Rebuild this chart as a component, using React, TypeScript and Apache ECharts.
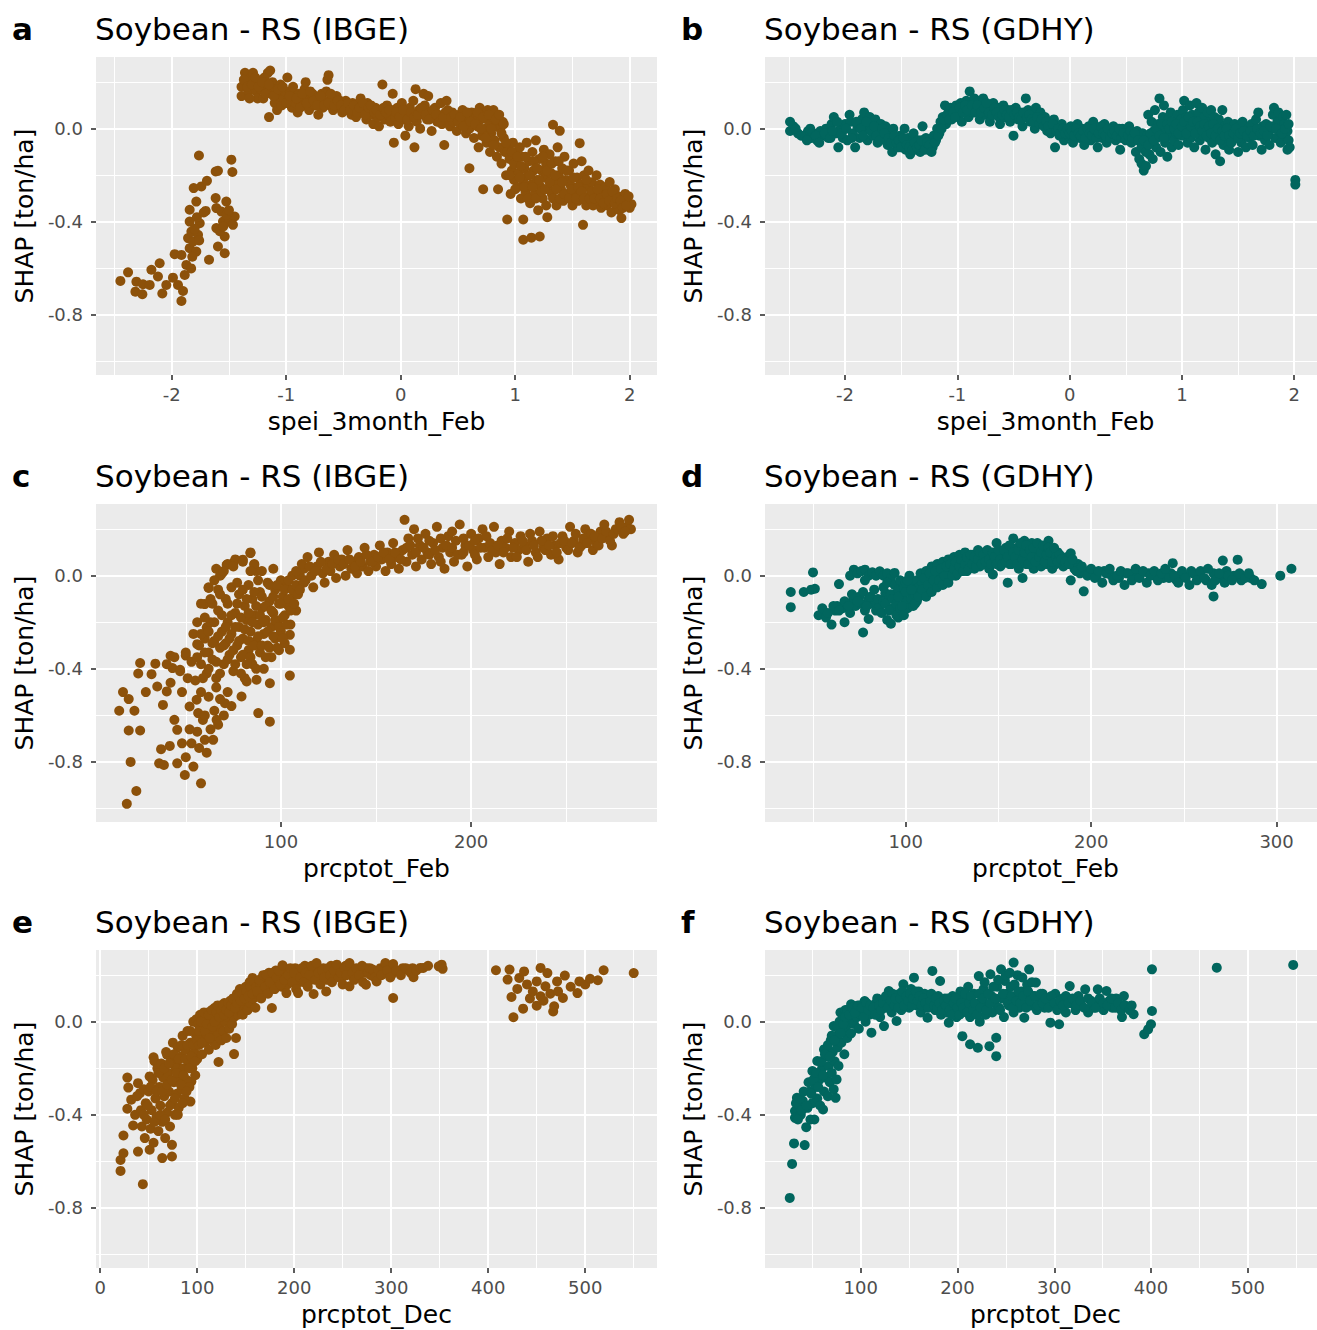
import React, { useEffect, useRef } from "react";
import * as echarts from "echarts";

// ---------- DATA ----------
const ibgeSpeiFeb: number[][] = [
  [-2.448,-0.654],[-2.381,-0.617],[-2.308,-0.657],[-2.317,-0.7],[-2.256,-0.711],[-2.25,-0.668],[-2.192,-0.671],[-2.177,-0.606],[-2.105,-0.578],[-2.12,-0.635],[-2.082,-0.708],[-2.047,-0.671],[-1.989,-0.64],[-1.974,-0.539],[-1.915,-0.542],[-1.945,-0.671],[-1.901,-0.697],[-1.915,-0.74],[-1.886,-0.628],[-1.872,-0.585],[-1.843,-0.513],[-1.857,-0.47],[-1.828,-0.442],[-1.843,-0.399],[-1.814,-0.485],[-1.785,-0.528],[-1.77,-0.456],[-1.755,-0.406],[-1.785,-0.313],[-1.843,-0.348],[-1.808,-0.255],[-1.741,-0.248],[-1.692,-0.224],[-1.762,-0.115],[-1.616,-0.184],[-1.596,-0.181],[-1.703,-0.353],[-1.674,-0.563],[-1.616,-0.298],[-1.596,-0.506],[-1.537,-0.535],[-1.61,-0.341],[-1.566,-0.356],[-1.523,-0.313],[-1.552,-0.399],[-1.494,-0.399],[-1.45,-0.377],[-1.465,-0.413],[-1.537,-0.463],[-1.479,-0.133],[-1.47,-0.186],[-1.523,-0.37],[-1.61,-0.427],[-1.82,-0.55],[-1.8,-0.43],[-1.78,-0.38],[-1.76,-0.48],[-1.72,-0.36],[-1.83,-0.6],[-1.58,-0.44],[-1.55,-0.42],[-1.5,-0.35],
  [-1.39,0.18],[-1.39,0.14],[-1.36,0.24],[-1.35,0.2],[-1.33,0.16],[-1.31,0.22],[-1.29,0.24],[-1.28,0.19],[-1.26,0.16],[-1.25,0.13],[-1.23,0.2],[-1.22,0.17],[-1.2,0.13],[-1.19,0.22],[-1.17,0.18],[-1.16,0.24],[-1.15,0.05],[-1.14,0.25],[-1.13,0.15],[-1.12,0.2],[-1.1,0.11],[-1.09,0.17],[-1.08,0.08],[-1.06,0.14],[-1.05,0.19],[-1.04,0.1],[-1.02,0.13],[-1.01,0.16],
  [-0.99,0.22],[-0.98,0.12],[-0.96,0.16],[-0.95,0.09],[-0.93,0.14],[-0.92,0.11],[-0.9,0.07],[-0.89,0.15],[-0.87,0.12],[-0.85,0.1],[-0.84,0.17],[-0.83,0.2],[-0.81,0.13],[-0.8,0.08],[-0.78,0.12],[-0.77,0.15],[-0.75,0.1],[-0.74,0.13],[-0.72,0.06],[-0.71,0.12],[-0.69,0.15],[-0.68,0.09],[-0.66,0.12],[-0.65,0.16],[-0.64,0.21],[-0.63,0.23],[-0.62,0.1],[-0.6,0.13],[-0.59,0.08],[-0.57,0.11],[-0.56,0.14],[-0.54,0.09],[-0.53,0.12],[-0.51,0.07],[-0.5,0.1],
  [-0.48,0.12],[-0.47,0.08],[-0.45,0.1],[-0.43,0.06],[-0.42,0.11],[-0.4,0.08],[-0.39,0.05],[-0.37,0.1],[-0.35,0.13],[-0.34,0.07],[-0.32,0.09],[-0.3,0.04],[-0.29,0.11],[-0.27,0.08],[-0.25,0.06],[-0.24,0.02],[-0.22,0.09],[-0.2,0.05],[-0.19,0.01],[-0.17,0.08],[-0.16,0.19],[-0.14,0.04],[-0.12,0.1],[-0.11,0.06],[-0.09,0.03],[-0.08,0.08],[-0.07,0.15],[-0.06,-0.06],[-0.05,0.05],[-0.03,0.09],[-0.02,0.02],[0.0,0.06],[0.01,0.11],[0.03,0.04],[0.04,-0.03],[0.05,0.07],[0.07,0.01],[0.08,0.09],[0.1,0.05],[0.11,0.12],[0.12,-0.08],[0.13,0.17],[0.14,0.03],[0.16,0.08],[0.17,0.0],[0.19,0.06],[0.2,0.15],[0.21,0.1],[0.23,0.04],[0.24,0.14],[0.26,0.07],[0.27,-0.01],[0.29,0.05],[0.3,0.09],[0.32,0.03],[0.33,0.06],[0.35,0.11],[0.36,0.02],[0.38,-0.07],[0.39,0.07],[0.4,0.12],[0.42,0.04],[0.43,0.01],[0.45,0.07],[0.46,0.03],[0.48,0.05],[0.49,-0.01],
  [0.51,0.06],[0.53,0.02],[0.54,0.08],[0.56,0.04],[0.57,-0.02],[0.59,0.05],[0.6,0.0],[0.6,-0.17],[0.62,0.07],[0.63,0.03],[0.64,-0.04],[0.66,0.05],[0.67,0.01],[0.68,-0.08],[0.69,0.09],[0.7,0.04],[0.71,-0.03],[0.72,-0.26],[0.73,0.06],[0.74,0.0],[0.75,-0.06],[0.76,0.08],[0.77,0.03],[0.78,-0.1],[0.79,-0.02],[0.8,0.05],[0.81,0.08],[0.82,-0.05],[0.83,0.01],[0.84,-0.12],[0.85,0.04],[0.85,-0.26],[0.86,-0.08],[0.87,0.0],[0.88,-0.15],[0.89,0.03],[0.9,-0.04],[0.91,-0.1],[0.92,-0.2],
  [0.93,-0.39],[0.94,-0.08],[0.95,-0.13],[0.96,-0.28],[0.97,-0.18],[0.98,-0.06],[0.99,-0.22],[1.0,-0.1],[1.01,-0.15],[1.02,-0.25],[1.03,-0.19],[1.04,-0.08],[1.05,-0.3],[1.06,-0.12],[1.07,-0.22],[1.07,-0.39],[1.08,-0.17],[1.07,-0.477],[1.09,-0.27],[1.1,-0.06],[1.11,-0.2],[1.12,-0.14],[1.13,-0.32],[1.141,-0.468],[1.14,-0.24],[1.15,-0.1],[1.16,-0.18],[1.17,-0.28],[1.18,-0.05],[1.19,-0.22],[1.2,-0.35],[1.214,-0.463],[1.21,-0.13],[1.22,-0.25],[1.23,-0.18],[1.24,-0.3],[1.25,-0.09],[1.26,-0.21],[1.27,-0.15],[1.28,-0.38],[1.29,-0.26],[1.3,-0.11],[1.31,-0.19],[1.32,-0.28],[1.33,0.017],[1.34,-0.23],[1.35,-0.14],[1.36,-0.33],[1.37,-0.08],[1.38,-0.2],[1.389,-0.009],[1.4,-0.26],[1.41,-0.17],[1.42,-0.31],[1.43,-0.12],[1.44,-0.22],
  [1.46,-0.28],[1.47,-0.18],[1.48,-0.24],[1.5,-0.33],[1.51,-0.15],[1.52,-0.27],[1.54,-0.21],[1.55,-0.31],[1.563,-0.062],[1.592,-0.413],[1.57,-0.24],[1.58,-0.14],[1.59,-0.29],[1.6,-0.2],[1.62,-0.33],[1.63,-0.25],[1.64,-0.18],[1.66,-0.28],[1.67,-0.23],[1.68,-0.33],[1.7,-0.27],[1.71,-0.2],[1.72,-0.31],[1.74,-0.24],[1.75,-0.34],[1.76,-0.28],[1.78,-0.3],[1.79,-0.25],[1.8,-0.33],[1.825,-0.229],[1.83,-0.29],[1.84,-0.36],[1.86,-0.3],[1.87,-0.26],[1.88,-0.33],[1.9,-0.29],[1.91,-0.35],[1.927,-0.384],[1.93,-0.3],[1.95,-0.33],[1.96,-0.28],[1.98,-0.31],[2.0,-0.34],[2.015,-0.324],
  [-1.37,0.21],[-1.34,0.18],[-1.32,0.13],[-1.3,0.19],[-1.27,0.22],[-1.24,0.18],[-1.21,0.2],[-1.18,0.15],[-1.15,0.19],[-1.11,0.14],[-1.07,0.17],[-1.03,0.18],[-1.0,0.11],[-0.97,0.14],[-0.94,0.18],[-0.91,0.13],[-0.88,0.09],[-0.86,0.15],[-0.82,0.11],[-0.79,0.16],[-0.76,0.12],[-0.73,0.1],[-0.7,0.14],[-0.67,0.1],[-0.63,0.11],[-0.61,0.15],[-0.58,0.1],[-0.55,0.12],[-0.52,0.1],[-0.49,0.08],[-0.46,0.11],[-0.44,0.08],[-0.41,0.1],[-0.38,0.07],[-0.36,0.09],[-0.33,0.11],[-0.31,0.06],[-0.28,0.09],[-0.26,0.1],[-0.23,0.07],[-0.21,0.08],[-0.18,0.06],[-0.15,0.09],[-0.13,0.07],[-0.1,0.08],[-0.04,0.07],[-0.01,0.05],[0.02,0.08],[0.06,0.04],[0.09,0.07],[0.12,0.05],[0.15,0.06],[0.18,0.09],[0.22,0.06],[0.25,0.04],[0.28,0.08],[0.31,0.06],[0.34,0.03],[0.37,0.05],[0.41,0.08],[0.44,0.05],[0.47,0.06],[0.5,0.03],[0.52,0.05],[0.55,0.01],[0.58,0.07],[0.61,0.03],[0.65,0.02],[0.67,0.07],[0.7,0.0],[0.72,0.05],[0.74,-0.04],[0.77,0.06],[0.79,0.0],[0.81,-0.07],[0.83,0.04],[0.86,0.06],[0.88,-0.02],[0.9,0.02],[0.92,-0.06],[0.93,-0.1],[0.95,-0.2],[0.97,-0.1],[0.99,-0.15],[1.0,-0.26],[1.02,-0.12],[1.04,-0.21],[1.05,-0.16],[1.08,-0.25],[1.09,-0.12],[1.11,-0.3],[1.13,-0.2],[1.15,-0.25],[1.16,-0.14],[1.18,-0.3],[1.19,-0.17],[1.21,-0.22],[1.23,-0.27],[1.24,-0.12],[1.26,-0.26],[1.27,-0.33],[1.28,-0.18],[1.3,-0.23],[1.32,-0.15],[1.33,-0.3],[1.35,-0.2],[1.36,-0.26],[1.38,-0.14],[1.39,-0.3],[1.41,-0.23],[1.43,-0.28],[1.45,-0.18],[1.47,-0.3],[1.49,-0.26],[1.51,-0.21],[1.53,-0.3],[1.55,-0.25],[1.58,-0.27],[1.6,-0.3],[1.62,-0.22],[1.65,-0.3],[1.67,-0.27],[1.69,-0.3],[1.72,-0.26],[1.74,-0.3],[1.77,-0.32],[1.8,-0.28],[1.82,-0.31],[1.85,-0.27],[1.87,-0.32],[1.89,-0.3],[1.92,-0.31],[1.94,-0.34],[1.97,-0.33],[1.99,-0.29]
];

const gdhySpeiFeb: number[][] = [
  [-2.49,0.03],[-2.49,-0.01],[-2.46,0.01],[-2.42,-0.02],[-2.36,-0.03],[-2.33,-0.01],[-2.3,-0.04],[-2.28,-0.02],[-2.25,-0.05],[-2.22,-0.01],[-2.2,-0.03],[-2.17,0.0],[-2.15,-0.04],[-2.12,0.02],[-2.1,0.05],[-2.08,-0.02],[-2.06,-0.08],[-2.04,0.0],[-2.02,-0.04],[-2.0,0.02],[-1.98,-0.05],[-1.96,0.06],[-1.95,0.03],[-1.93,-0.02],[-1.91,-0.08],[-1.89,0.01],[-1.87,-0.04],[-1.85,0.04],[-1.83,0.07],[-1.82,0.0],[-1.8,-0.05],[-1.78,0.05],[-1.76,0.02],[-1.75,-0.03],[-1.73,0.04],[-1.71,-0.06],[-1.7,0.0],[-1.68,0.02],[-1.66,-0.04],[-1.64,0.01],[-1.62,-0.07],[-1.6,-0.02],[-1.58,-0.1],[-1.57,0.0],[-1.55,-0.05],[-1.53,-0.08],[-1.51,-0.03],[-1.49,-0.06],[-1.47,0.0],[-1.46,-0.09],[-1.44,-0.04],[-1.42,-0.11],[-1.41,-0.06],[-1.39,-0.02],[-1.37,-0.09],[-1.35,-0.05],[-1.33,-0.1],[-1.31,0.01],[-1.3,-0.07],[-1.28,-0.04],[-1.26,-0.09],[-1.24,-0.06],[-1.22,-0.08],[-1.21,-0.03],
  [-1.19,-0.05],[-1.18,0.0],[-1.16,-0.02],[-1.15,0.03],[-1.13,0.05],[-1.11,0.1],[-1.1,0.02],[-1.08,0.07],[-1.06,0.09],[-1.05,0.04],[-1.03,0.08],[-1.01,0.1],
  [-0.99,0.06],[-0.97,0.11],[-0.96,0.03],[-0.94,0.08],[-0.92,0.12],[-0.9,0.05],[-0.89,0.16],[-0.88,0.1],[-0.86,0.07],[-0.85,0.13],[-0.83,0.09],[-0.81,0.12],[-0.8,0.04],[-0.78,0.1],[-0.77,0.13],[-0.75,0.06],[-0.73,0.09],[-0.71,0.03],[-0.7,0.08],[-0.68,0.11],[-0.66,0.06],[-0.64,0.09],[-0.62,0.02],[-0.61,0.07],[-0.59,0.1],[-0.57,0.05],[-0.55,0.08],[-0.53,0.03],[-0.51,0.06],[-0.5,-0.03],[-0.48,0.09],[-0.46,0.04],[-0.44,0.07],[-0.42,0.01],[-0.4,0.05],[-0.39,0.13],[-0.37,0.08],[-0.35,0.03],[-0.33,0.06],[-0.31,0.0],[-0.3,0.09],[-0.28,0.04],[-0.26,0.07],[-0.24,0.02],[-0.22,0.05],[-0.2,-0.01],[-0.18,0.03],[-0.16,0.0],[-0.14,0.04],[-0.13,-0.08],[-0.11,0.01],[-0.09,-0.03],[-0.07,0.02],[-0.05,-0.05],
  [-0.03,0.0],[-0.01,-0.03],[0.01,0.01],[0.03,-0.06],[0.05,-0.02],[0.07,0.02],[0.09,-0.04],[0.11,0.0],[0.13,-0.07],[0.15,-0.02],[0.17,0.01],[0.19,-0.05],[0.21,0.03],[0.23,-0.02],[0.25,-0.08],[0.27,0.0],[0.29,-0.04],[0.31,0.02],[0.33,-0.06],[0.35,-0.01],[0.37,-0.03],[0.39,0.01],[0.41,-0.05],[0.43,-0.02],[0.45,-0.09],[0.47,0.0],[0.49,-0.04],[0.51,-0.02],[0.53,0.01],[0.55,-0.06],[0.57,-0.03],[0.59,-0.1],[0.6,-0.01],
  [0.62,-0.13],[0.63,-0.05],[0.64,-0.15],[0.65,-0.02],[0.66,-0.18],[0.67,-0.09],[0.68,-0.16],[0.69,-0.03],[0.7,0.06],[0.71,-0.11],[0.72,-0.06],[0.73,0.03],[0.74,-0.13],[0.75,-0.01],[0.76,0.08],[0.77,-0.08],[0.78,-0.04],[0.79,0.02],[0.8,0.13],[0.81,-0.1],[0.82,-0.02],[0.83,0.05],[0.84,0.1],[0.85,-0.06],[0.86,0.0],[0.87,-0.12],[0.88,0.04],[0.89,-0.03],[0.9,0.07],[0.91,-0.08],[0.92,0.01],[0.93,-0.05],[0.94,0.03],[0.95,-0.02],[0.96,0.06],[0.97,-0.07],[0.98,0.0],[0.99,0.04],[1.0,-0.03],[1.01,0.08],[1.02,0.12],[1.03,-0.01],[1.04,0.05],[1.05,-0.06],[1.06,0.02],[1.07,0.1],[1.08,-0.04],[1.09,0.06],[1.1,0.0],[1.11,-0.08],[1.12,0.04],[1.13,0.11],[1.14,-0.02],[1.15,0.07],[1.16,-0.05],[1.17,0.02],[1.18,0.09],[1.19,-0.03],[1.2,0.05],[1.21,-0.09],[1.22,0.01],[1.23,0.07],[1.24,-0.04],[1.25,0.03],[1.26,0.08],[1.27,-0.06],[1.28,-0.01],[1.29,0.05],[1.3,-0.11],[1.31,0.02],[1.32,-0.04],[1.33,0.04],[1.34,-0.14],[1.35,-0.02],[1.36,0.08],[1.37,-0.07],[1.38,0.01],[1.4,-0.04],[1.41,0.03],[1.42,-0.09],[1.44,0.0],[1.45,-0.05],[1.47,0.02],[1.48,-0.03],[1.5,-0.1],[1.51,0.01],[1.53,-0.06],[1.54,0.03],[1.56,-0.02],[1.57,-0.08],[1.59,0.0],[1.6,-0.04],[1.62,0.02],[1.63,-0.07],[1.65,-0.01],[1.66,0.04],[1.68,0.07],[1.69,-0.03],[1.71,-0.09],[1.72,0.01],[1.74,-0.05],[1.75,0.02],[1.77,-0.02],[1.78,-0.07],[1.8,0.0],[1.81,0.06],[1.82,0.09],[1.83,-0.04],[1.85,0.03],[1.86,0.07],[1.87,-0.01],[1.88,-0.06],[1.9,0.05],[1.91,0.02],[1.92,-0.03],[1.93,0.06],[1.94,-0.01],[1.95,-0.05],[1.96,-0.08],[2.01,-0.22],[2.01,-0.24],
  [-2.44,0.0],[-2.39,-0.03],[-2.34,-0.05],[-2.31,0.0],[-2.26,-0.03],[-2.23,-0.06],[-2.18,-0.02],[-2.13,-0.04],[-2.11,-0.01],[-2.07,0.03],[-2.03,-0.02],[-1.99,0.0],[-1.94,-0.04],[-1.9,0.03],[-1.86,0.0],[-1.84,-0.03],[-1.81,0.03],[-1.77,-0.01],[-1.74,0.01],[-1.72,-0.03],[-1.69,-0.05],[-1.67,0.0],[-1.65,-0.02],[-1.61,-0.04],[-1.59,-0.06],[-1.56,-0.03],[-1.54,-0.06],[-1.52,-0.05],[-1.5,-0.08],[-1.48,-0.04],[-1.45,-0.07],[-1.43,-0.08],[-1.4,-0.09],[-1.38,-0.06],[-1.36,-0.08],[-1.34,-0.07],[-1.32,-0.05],[-1.29,-0.09],[-1.27,-0.06],[-1.25,-0.07],[-1.23,-0.1],[-1.2,-0.06],[-1.17,-0.03],[-1.14,0.0],[-1.12,0.04],[-1.09,0.06],[-1.07,0.04],[-1.04,0.07],[-1.02,0.05],[-0.98,0.09],[-0.95,0.07],[-0.93,0.1],[-0.91,0.08],[-0.87,0.1],[-0.84,0.07],[-0.82,0.1],[-0.79,0.07],[-0.76,0.09],[-0.74,0.11],[-0.72,0.07],[-0.69,0.06],[-0.67,0.09],[-0.65,0.07],[-0.63,0.05],[-0.6,0.06],[-0.58,0.08],[-0.56,0.06],[-0.54,0.05],[-0.52,0.08],[-0.49,0.06],[-0.47,0.07],[-0.45,0.05],[-0.43,0.04],[-0.41,0.07],[-0.38,0.05],[-0.36,0.06],[-0.34,0.04],[-0.32,0.03],[-0.29,0.05],[-0.27,0.02],[-0.25,0.04],[-0.23,0.01],[-0.21,0.03],[-0.19,0.01],[-0.17,-0.02],[-0.15,0.02],[-0.12,-0.01],[-0.1,0.0],[-0.08,-0.02],[-0.06,0.0],[-0.04,-0.02],[-0.02,0.0],[0.0,-0.02],[0.02,-0.01],[0.04,-0.03],[0.06,0.0],[0.08,-0.02],[0.1,-0.03],[0.12,-0.01],[0.14,-0.04],[0.16,0.0],[0.18,-0.02],[0.2,-0.03],[0.22,0.0],[0.24,-0.04],[0.26,-0.02],[0.28,0.01],[0.3,-0.02],[0.32,-0.03],[0.34,0.0],[0.36,-0.04],[0.38,-0.02],[0.4,-0.01],[0.42,-0.03],[0.44,0.0],[0.46,-0.04],[0.48,-0.02],[0.5,-0.05],[0.52,-0.03],[0.54,-0.01],[0.56,-0.04],[0.58,-0.02],[0.61,-0.05],[0.64,-0.08],[0.66,-0.05],[0.68,-0.1],[0.7,-0.07],[0.72,-0.02],[0.75,-0.05],[0.77,0.0],[0.8,-0.03],[0.82,0.02],[0.84,-0.04],[0.87,0.02],[0.89,0.0],[0.91,0.03],[0.93,0.0],[0.95,0.02],[0.97,-0.02],[1.0,0.01],[1.02,0.03],[1.04,-0.02],[1.06,0.05],[1.08,0.01],[1.1,0.03],[1.12,-0.02],[1.14,0.03],[1.16,0.01],[1.18,-0.01],[1.2,0.02],[1.22,-0.03],[1.24,0.01],[1.26,-0.02],[1.28,0.02],[1.3,-0.03],[1.32,0.0],[1.34,-0.05],[1.36,-0.01],[1.38,-0.03],[1.4,0.0],[1.42,-0.03],[1.44,-0.06],[1.46,-0.02],[1.48,0.0],[1.5,-0.04],[1.52,-0.02],[1.55,-0.01],[1.58,-0.03],[1.61,-0.01],[1.64,-0.03],[1.67,0.0],[1.7,-0.02],[1.73,-0.01],[1.76,-0.03],[1.79,0.01],[1.84,0.0],[1.89,-0.02],[1.92,0.0],[1.95,0.02],[1.94,-0.09]
];

const ibgePrcpFeb: number[][] = [
  [19,-0.98],[24,-0.925],[21,-0.8],[20,-0.665],[26,-0.665],[15,-0.58],[23,-0.58],[17,-0.5],[20,-0.53],[25,-0.42],[26,-0.375],[32,-0.423],[34,-0.378],[29,-0.5],[38,-0.555],[42,-0.344],[50,-0.343],[35,-0.476],[40,-0.497],[43,-0.397],[47,-0.404],[51,-0.44],[54,-0.25],[56,-0.294],[61,-0.222],[62,-0.053],[60,-0.122],[67,-0.06],[69,0.009],[71.5,0.047],[75,0.055],[80,0.069],[84,0.097],[86,0.047],
  [44,-0.619],[45.5,-0.662],[37,-0.745],[36,-0.806],[38.5,-0.813],[45.5,-0.806],[49.5,-0.856],[58,-0.892],[41.6,-0.731],[52,-0.562],[55.7,-0.533],[56.5,-0.59],[60,-0.705],[64.4,-0.705],[66.2,-0.619],[70.6,-0.548],[79.3,-0.519],[94.2,-0.462],[88.1,-0.59],[94.2,-0.627],[82,-0.454],[87.2,-0.447],[104.7,-0.429],[104.7,-0.318],[104.7,-0.254],
  [50,-0.78],[53,-0.72],[56,-0.67],[59,-0.62],[61,-0.76],[63,-0.66],[65,-0.58],[68,-0.53],[48,-0.72],[52,-0.66],[57,-0.74],[54,-0.82],[60,-0.6],[67,-0.64],[70,-0.6],[72,-0.5],[74,-0.56],
  [40,-0.38],[44,-0.35],[47,-0.41],[50,-0.33],[53,-0.37],[42,-0.46],[48,-0.5],[55,-0.45],[58,-0.5],[62,-0.52],[66,-0.48],
  [57,-0.3],[58,-0.38],[60,-0.27],[61,-0.42],[62,-0.33],[63,-0.2],[64,-0.36],[65,-0.28],[66,-0.44],[67,-0.15],[68,-0.31],[69,-0.24],[70,-0.38],[71,-0.1],[71,-0.29],[72,-0.2],[73,-0.34],[74,-0.05],[74,-0.25],[75,-0.41],[76,-0.16],[77,-0.3],[78,-0.22],[78,-0.08],[79,-0.35],[80,-0.27],[81,-0.13],[81,-0.44],[82,-0.19],[83,-0.32],[83,-0.04],[84,-0.24],[85,-0.1],[85,-0.38],[86,-0.17],[87,-0.28],[87,0.02],[88,-0.21],[89,-0.33],[89,-0.07],[90,-0.14],[91,-0.25],[91,-0.4],[92,-0.19],[93,-0.03],[93,-0.3],[94,-0.11],[95,-0.22],[95,-0.35],[96,-0.16],[97,-0.06],[97,-0.27],[98,-0.2],[99,-0.12],[99,-0.32],[100,-0.02],[100,-0.24],[101,-0.09],[102,-0.17],[102,-0.29],[103,-0.05],[104,-0.13],[105,-0.21],[106,0.0],[107,-0.08],[108,-0.15],
  [62,-0.05],[66,0.03],[72,0.05],[76,0.07],[80,0.06],[84,0.1],[86,0.05],[90,0.02],[96,0.03],[64,-0.12],[68,0.0],
  [56,-0.2],[56,-0.35],[58,-0.12],[58,-0.25],[59,-0.44],[60,-0.18],[60,-0.33],[62,-0.24],[62,-0.4],[63,-0.1],[64,-0.29],[65,-0.02],[65,-0.2],[66,-0.37],[67,-0.26],[68,-0.08],[68,-0.42],[69,-0.17],[70,-0.3],[70,0.02],[71,-0.22],[72,-0.36],[72,-0.12],[73,-0.27],[74,-0.17],[75,-0.32],[75,0.04],[76,-0.22],[76,-0.38],[77,-0.12],[77,-0.03],[78,-0.28],[79,-0.18],[79,-0.42],[80,-0.06],[80,-0.34],[81,-0.23],[82,-0.1],[82,-0.38],[83,-0.16],[83,-0.28],[84,0.02],[84,-0.35],[85,-0.2],[86,-0.07],[86,-0.3],[87,-0.13],[87,-0.4],[88,-0.26],[88,-0.02],[89,-0.17],[90,-0.3],[90,-0.09],[91,-0.2],[92,-0.35],[92,-0.13],[93,-0.24],[94,-0.04],[94,-0.31],[95,-0.15],[96,-0.26],[96,-0.09],[97,-0.19],[98,-0.31],[98,-0.04],[99,-0.22],[100,-0.12],[101,-0.18],[101,-0.27],[102,-0.06],[103,-0.21],[104,-0.1],[104,-0.02],[105,-0.15],[106,-0.06],[107,-0.12],[108,-0.04],[109,-0.08],[110,0.0],[112,-0.03],[112,0.03],
  [108,0.02],[110,-0.06],[111,0.05],[113,-0.02],[114,0.08],[116,0.0],[117,-0.05],[119,0.04],[120,0.1],[122,0.01],[123,-0.03],[125,0.06],[126,0.02],[128,0.09],[129,-0.01],[131,0.04],[132,0.07],[134,0.0],[135,0.11],[137,0.03],[138,0.06],[140,0.01],[141,0.08],[143,0.04],[144,0.12],[146,0.02],[147,0.06],[149,0.09],[150,0.04],[152,0.13],[153,0.07],[155,0.02],[156,0.1],[158,0.05],[159,0.14],[161,0.08],[162,0.03],[164,0.11],[165,0.24],[166,0.06],[167,0.16],[169,0.09],[170,0.2],[171,0.04],[173,0.13],[174,0.07],[176,0.18],[177,0.1],[179,0.05],[180,0.14],[182,0.21],[183,0.08],[185,0.12],[186,0.03],[188,0.17],[189,0.1],[191,0.06],[192,0.15],[194,0.22],[195,0.09],[197,0.13],[198,0.04],[200,0.18],[201,0.11],[203,0.07],[204,0.16],[206,0.2],[207,0.12],[209,0.08],[210,0.14],[212,0.21],[213,0.1],[215,0.05],[216,0.15],[218,0.12],[220,0.19],[221,0.08],[223,0.14],[225,0.11],[226,0.17],[228,0.13],[230,0.06],[232,0.15],[234,0.1],[236,0.19],[238,0.12],[240,0.16],[242,0.09],[244,0.13],[246,0.07],[248,0.17],[250,0.12],[252,0.21],[254,0.15],[256,0.1],[258,0.13],[260,0.2],[262,0.16],[264,0.11],[266,0.14],[268,0.19],[270,0.22],[272,0.17],[274,0.13],[276,0.2],[278,0.23],[280,0.18],[282,0.21],[283,0.24],[284,0.2],
  [115,0.04],[118,0.02],[121,0.06],[124,0.03],[127,0.05],[130,0.07],[133,0.05],[136,0.07],[139,0.04],[142,0.06],[145,0.09],[148,0.06],[151,0.08],[154,0.1],[157,0.07],[160,0.1],[163,0.07],[166,0.12],[168,0.13],[171,0.1],[172,0.16],[175,0.12],[178,0.09],[178,0.15],[181,0.11],[184,0.16],[184,0.06],[187,0.13],[190,0.12],[190,0.19],[193,0.09],[196,0.16],[196,0.1],[199,0.13],[202,0.15],[202,0.09],[205,0.12],[208,0.17],[211,0.11],[214,0.13],[217,0.1],[219,0.16],[222,0.12],[224,0.08],[227,0.15],[229,0.11],[231,0.18],[233,0.13],[235,0.08],[237,0.15],[239,0.11],[241,0.13],[243,0.17],[245,0.1],[247,0.14],[249,0.15],[251,0.11],[253,0.14],[255,0.18],[257,0.12],[259,0.16],[261,0.14],[263,0.18],[265,0.17],[267,0.13],[269,0.16],[271,0.19],[273,0.15],[275,0.18],[277,0.2],[279,0.21],[281,0.19]
];

const gdhyPrcpFeb: number[][] = [
  [38,-0.07],[38,-0.135],[45,-0.07],[50,0.014],[51,-0.056],[49,-0.06],[53,-0.17],[57,-0.18],[60,-0.21],[62,-0.15],[64,-0.036],[63,-0.13],[66,-0.14],[68,-0.117],[70,-0.16],[72,-0.1],[73,-0.13],[75,-0.09],[76,-0.12],[77,-0.244],[78,-0.15],[80,-0.186],[80,-0.1],[82,-0.12],[84,-0.15],[86,-0.13],[87,-0.16],[89,-0.075],[90,-0.19],[92,-0.206],[72,0.026],[70,0.0],[74,0.01],[76,0.02],[78,0.026],[80,0.0],[82,0.015],[84,0.0],[86,0.019],[88,0.0],[90,0.01],[92,-0.01],[94,0.012],[78,-0.02],
  [55,-0.14],[58,-0.16],[61,-0.13],[64,-0.15],[67,-0.11],[69,-0.13],[71,-0.08],[74,-0.11],[77,-0.07],[79,-0.13],[81,-0.09],[83,-0.06],[85,-0.1],[88,-0.11],[91,-0.1],[93,-0.14],[94,-0.08],[67,-0.2],[96,-0.18],[98,-0.03],
  [88,-0.05],[89,-0.12],[90,-0.03],[91,-0.15],[92,-0.08],[93,-0.1],[94,-0.04],[95,-0.17],[95,-0.12],[96,-0.06],[97,-0.14],[97,-0.02],[98,-0.09],[99,-0.17],[99,-0.05],[100,-0.11],[100,-0.03],[101,-0.14],[102,-0.07],[102,0.0],[103,-0.1],[104,-0.04],[104,-0.13],[105,-0.08],[106,-0.02],[106,-0.11],[107,-0.05],[108,0.01],[108,-0.08],[109,-0.03],
  [110,-0.06],[111,0.02],[112,-0.01],[113,-0.05],[114,0.04],[115,0.0],[116,-0.03],[117,0.05],[118,0.01],[119,-0.02],[120,0.06],[121,0.03],[122,-0.01],[123,0.07],[124,0.02],[125,0.04],[126,0.08],[127,0.0],[128,0.05],[129,0.09],[130,0.03],[131,0.06],[132,0.1],[133,0.02],[134,0.07],[135,0.05],[136,0.09],[137,0.03],[138,0.06],[139,0.11],[140,0.04],[141,0.08],[142,0.05],[143,0.1],[144,0.07],[145,0.03],[146,0.09],[147,0.005],[148,0.06],[149,0.14],[150,0.08],
  [151,0.04],[152,0.1],[153,0.07],[154,0.12],[155,-0.03],[156,0.05],[157,0.09],[158,0.16],[159,0.06],[160,0.12],[161,0.03],[162,0.08],[163,-0.01],[164,0.15],[165,0.05],[166,0.1],[167,0.07],[168,0.14],[169,0.03],[170,0.09],[171,0.06],[172,0.12],[173,0.04],[174,0.08],[175,0.11],[176,0.05],[177,0.15],[178,0.07],[179,0.03],[180,0.09],[181,0.05],[182,0.1],[183,0.06],[185,0.04],[187,0.08],[189,0.096],[189,-0.02],[191,0.03],[193,0.05],[194,0.01],[196,-0.067],[196,0.02],
  [96,-0.09],[98,-0.13],[100,-0.07],[101,-0.02],[103,-0.06],[105,-0.12],[107,-0.09],[109,-0.06],[110,-0.01],[111,-0.09],[112,-0.04],[113,0.01],[114,-0.07],[115,-0.02],[116,0.02],[117,-0.05],[118,-0.02],[119,0.03],[120,-0.04],[121,0.0],[122,0.04],[123,-0.03],[124,0.05],[125,0.0],[126,0.03],[127,0.06],[128,0.01],[129,0.04],[130,0.07],[131,0.02],[132,0.05],[133,0.08],[134,0.03],[135,0.09],[136,0.05],[137,0.08],[138,0.04],[139,0.07],[140,0.1],[141,0.05],[142,0.09],[143,0.06],[144,0.11],[145,0.07],[146,0.05],[147,0.1],[148,0.08],[149,0.05],[150,0.11],[151,0.07],[152,0.05],[153,0.11],[154,0.06],[155,0.08],[156,0.13],[157,0.05],[158,0.1],[159,0.08],[160,0.05],[161,0.11],[162,0.14],[163,0.07],[164,0.1],[165,0.13],[166,0.05],[167,0.11],[168,0.08],[169,0.12],[170,0.06],[171,0.14],[172,0.08],[173,0.1],[174,0.13],[175,0.06],[176,0.09],[177,0.12],[178,0.1],[179,0.06],[180,0.12],[181,0.08],[182,0.06],[183,0.09],[184,0.07],[186,0.06],[188,0.05],[190,0.07],[192,0.02],[195,0.04],[199,0.01],[203,0.0],[207,0.02],[211,0.0],[215,-0.01],[219,0.01],[223,0.0],[227,0.01],[231,0.01],[235,0.0],[239,-0.01],[243,0.01],[246,-0.02],[250,0.0],[254,0.02],[258,0.0],[262,-0.02],[266,0.01],[270,-0.01],[273,0.02],[277,0.0],[281,-0.02],[286,-0.01],
  [198,0.0],[200,0.03],[202,-0.01],[204,0.02],[206,-0.03],[208,0.01],[210,0.03],[212,-0.02],[214,0.0],[216,0.02],[218,-0.04],[220,0.01],[222,-0.02],[224,0.03],[226,-0.01],[228,0.02],[230,-0.03],[232,0.0],[234,0.02],[236,-0.02],[238,0.01],[240,0.03],[242,-0.01],[244,0.054],[245,0.0],[247,-0.03],[249,0.02],[251,-0.01],[253,-0.04],[255,0.01],[257,-0.02],[259,0.02],[261,-0.01],[263,0.03],[265,-0.04],[266,-0.089],[267,-0.02],[269,0.01],[271,0.065],[272,-0.03],[274,0.0],[276,-0.02],[279,0.069],[280,0.01],[283,-0.01],[285,0.011],[288,-0.02],[292,-0.036],[302,0.0],[308,0.03]
];

const ibgePrcpDec: number[][] = [
  [21,-0.641],[21,-0.594],[24,-0.565],[24,-0.489],[28,-0.374],[28,-0.24],[29,-0.283],[32,-0.335],[34,-0.446],[39,-0.264],[39,-0.558],[41,-0.307],[44,-0.698],[51,-0.55],[51,-0.235],[55,-0.153],[56,-0.17],[64,-0.586],[69,-0.142],[74,-0.579],[74,-0.529],[79,-0.178],[93,-0.343],[94,-0.257],
  [36,-0.4],[38,-0.32],[42,-0.38],[43,-0.45],[45,-0.29],[46,-0.5],[47,-0.35],[48,-0.42],[50,-0.3],[52,-0.46],[53,-0.38],[54,-0.25],[55,-0.52],[57,-0.33],[58,-0.41],[59,-0.2],[60,-0.47],[61,-0.28],[62,-0.36],[63,-0.18],[64,-0.43],[65,-0.24],[66,-0.32],[67,-0.5],[68,-0.13],[69,-0.39],[70,-0.22],[71,-0.3],[72,-0.45],[73,-0.17],[74,-0.35],[75,-0.09],[76,-0.26],[77,-0.4],[78,-0.2],[79,-0.31],[80,-0.11],[81,-0.37],[82,-0.24],[83,-0.15],[84,-0.29],[85,-0.06],[86,-0.2],[87,-0.33],[88,-0.12],[89,-0.25],[90,-0.04],[91,-0.17],[92,-0.28],[93,-0.09],[95,-0.2],[96,0.0],[97,-0.13],[98,-0.23],[99,-0.06],[100,-0.16],
  [45,-0.4],[49,-0.36],[52,-0.28],[56,-0.43],[58,-0.3],[60,-0.22],[62,-0.4],[64,-0.3],[66,-0.2],[67,-0.42],[69,-0.27],[71,-0.18],[72,-0.36],[74,-0.25],[76,-0.14],[77,-0.33],[79,-0.22],[80,-0.4],[81,-0.16],[83,-0.27],[84,-0.1],[85,-0.35],[86,-0.23],[88,-0.16],[89,-0.3],[90,-0.1],[92,-0.2],[93,-0.04],[94,-0.15],[96,-0.1],[98,-0.17],[99,0.01],[100,-0.08],
  [101,-0.01],[102,-0.1],[103,0.03],[104,-0.05],[105,-0.14],[106,0.03],[107,-0.03],[108,-0.09],[109,0.0],[110,-0.06],[111,0.04],[112,-0.12],[113,-0.02],[114,0.037],[115,-0.08],[116,0.01],[117,-0.04],[118,0.06],[119,-0.1],[120,0.0],[121,-0.06],[122,-0.173],[122,0.04],[123,-0.02],[124,0.07],[125,-0.08],[126,0.02],[127,-0.04],[128,0.08],[129,0.0],[130,-0.07],[131,0.05],[132,0.02],[133,-0.03],[134,0.09],[135,0.04],[136,-0.01],[137,0.07],[138,-0.139],[138,0.02],[139,0.1],[140,-0.07],[140,0.05],[141,0.12],[142,0.03],[143,0.08],[144,0.14],[145,0.05],[146,0.1],[147,0.03],[148,0.12],[149,0.07],[150,0.15],[151,0.09],[152,0.05],[153,0.13],[154,0.17],[155,0.08],[156,0.12],[157,0.188],[158,0.1],[159,0.15],[160,0.06],
  [102,-0.04],[104,0.0],[105,-0.09],[107,0.04],[108,-0.04],[110,-0.01],[112,0.03],[113,-0.07],[115,0.05],[116,-0.02],[118,0.0],[120,0.04],[121,0.07],[123,0.02],[125,0.05],[127,0.07],[128,0.03],[130,0.05],[132,0.08],[133,0.04],[135,0.07],[137,0.1],[139,0.06],[141,0.08],[143,0.11],[145,0.09],[147,0.12],[149,0.1],[151,0.13],[153,0.11],[155,0.15],[157,0.12],[159,0.17],[161,0.15],[163,0.12],[165,0.16],[167,0.18],[169,0.14],[172,0.18],[174,0.21],[176,0.15],[179,0.18],[181,0.22],[183,0.17],[185,0.2],[187,0.15],[189,0.21],[191,0.19],[193,0.16],[195,0.22],[197,0.2],[199,0.18],[201,0.23],[203,0.2],[205,0.17],[207,0.21],[209,0.19],[211,0.24],[213,0.19],[215,0.22],[217,0.18],[219,0.21],[221,0.23],[224,0.2],[226,0.22],[228,0.19],[230,0.23],[232,0.21],[234,0.18],[236,0.22],[238,0.24],[240,0.2],[243,0.22],[245,0.2],[247,0.23],[249,0.19],[251,0.22],[253,0.24],[255,0.21],[258,0.23],[261,0.19],[263,0.22],[265,0.2],[268,0.22],[272,0.21],[275,0.23],[279,0.2],[282,0.21],[286,0.2],[289,0.23],[292,0.21],[297,0.23],[300,0.2],[307,0.22],[312,0.23],[318,0.22],[322,0.23],
  [162,0.13],[164,0.18],[166,0.1],[168,0.2],[170,0.15],[171,0.202],[173,0.12],[175,0.17],[177,0.059],[178,0.21],[180,0.14],[182,0.19],[184,0.22],[186,0.16],[188,0.242],[190,0.18],[192,0.123],[194,0.2],[196,0.23],[198,0.17],[200,0.21],[202,0.14],[204,0.123],[206,0.19],[208,0.23],[210,0.17],[212,0.21],[214,0.15],[216,0.2],[218,0.24],[220,0.119],[222,0.18],[223,0.252],[225,0.21],[227,0.16],[229,0.22],[231,0.19],[233,0.13],[235,0.23],[237,0.2],[239,0.17],[241,0.22],[244,0.245],[246,0.19],[248,0.21],[250,0.16],[252,0.23],[254,0.2],[257,0.252],[257,0.152],[260,0.21],[262,0.18],[264,0.23],[267,0.2],[270,0.24],[271,0.17],[274,0.159],[276,0.21],[278,0.23],[281,0.224],[283,0.19],[285,0.173],[287,0.22],[290,0.2],[294,0.252],[296,0.22],[299,0.19],[302,0.248],[302,0.102],[305,0.22],[310,0.2],[315,0.23],[320,0.21],[323,0.191],[326,0.22],[330,0.231],[333,0.231],[338,0.24],[349,0.238],[352,0.245],[353,0.227],
  [408,0.221],[420,0.181],[422,0.224],[424,0.106],[426,0.019],[430,0.141],[432,0.188],[436,0.056],[437,0.216],[440,0.16],[443,0.1],[446,0.13],[450,0.069],[450,0.173],[454,0.109],[454,0.231],[457,0.09],[459,0.152],[461,0.209],[464,0.12],[467,0.044],[468,0.066],[471,0.173],[472,0.13],[477,0.102],[479,0.198],[485,0.15],[492,0.123],[494,0.173],[500,0.16],[505,0.184],[513,0.178],[519,0.221],[550,0.209]
];

const gdhyPrcpDec: number[][] = [
  [26.6,-0.757],[29,-0.611],[31,-0.523],[42,-0.53],[32,-0.384],[32,-0.413],[34,-0.327],[36,-0.36],[38,-0.4],[40,-0.34],[43.6,-0.453],[45,-0.37],[47,-0.3],[48,-0.42],[50,-0.212],[50,-0.35],[52,-0.42],[53,-0.28],[55,-0.169],[55,-0.33],[57,-0.25],[58,-0.36],[60,-0.2],[61,-0.377],[62,-0.119],[62,-0.3],[64,-0.24],[65,-0.15],[66,-0.32],[67,-0.19],[68,-0.26],[69,-0.08],[70,-0.22],[71,-0.13],[72,-0.019],[72,-0.29],[73,-0.17],[74,-0.327],[75,-0.248],[75,-0.06],[76,-0.11],[77,-0.19],[78,0.0],[79,0.039],[80,-0.09],[81,-0.04],[82,0.02],[83,-0.14],[84,0.05],[85,-0.02],[86,-0.07],[87,0.04],[88,0.0],[90,0.075],[90,-0.05],[92,0.03],[93,-0.01],[95,0.06],[96,0.02],[98,-0.03],[99,0.07],[100,0.03],[102,0.05],[104,0.089],[105,0.0],[107,0.06],[109,0.03],[111,-0.047],[112,0.07],[114,0.04],[116,0.08],[118,0.05],[120,0.02],[122,0.09],[124,-0.019],[125,0.06],[127,0.1],[129,0.132],[130,0.07],[132,0.04],[134,0.11],[137,0.003],[138,0.08],[140,0.12],[142,0.05],[144,0.161],[146,0.09],[148,0.12],[150,0.06],[152,0.14],[155,0.189],[156,0.1],[158,0.07],[160,0.13],[162,0.04],[164,0.09],[166,0.12],[168,0.06],[169,0.017],[171,0.1],[174,0.218],[175,0.08],[177,0.05],[180,0.11],[182,0.175],[183,0.03],[185,0.07],[187,0.1],[189,0.04],[191,-0.004],[193,0.08],[195,0.11],[197,0.05],[199,0.02],[201,0.09],[203,0.13],[205,-0.062],[205,0.04],[207,0.1],[209,0.06],[211,0.15],[213,-0.097],[213,0.02],[215,0.08],[217,0.12],[219,0.05],[221,-0.112],[222,0.196],[223,0.0],[225,0.09],[227,0.14],[229,0.03],[231,0.07],[233,-0.105],[234,0.204],[235,0.11],[236,0.04],[238,0.08],[240,-0.148],[240,-0.069],[241,0.15],[243,0.06],[245,0.225],[246,0.1],[248,0.02],[249,0.175],[251,0.12],[253,0.07],[255,0.15],[258,0.254],[258,0.04],[260,0.1],[262,0.2],[264,0.06],[266,0.13],[269,0.017],[270,0.09],[272,0.16],[274,0.225],[276,0.07],[278,0.11],[281,0.168],[282,0.05],[285,0.09],[288,0.12],[290,0.06],[293,0.1],[296,-0.004],[298,0.08],[301,0.12],[305,-0.011],[306,0.06],[309,0.1],[312,0.04],[316,0.153],[318,0.08],[322,0.05],[325,0.11],[328,0.07],[332,0.139],[335,0.04],[338,0.09],[341,0.06],[345,0.139],[348,0.08],[351,0.05],[354,0.132],[357,0.09],[360,0.06],[364,0.1],[367,0.07],[370,0.02],[372,0.11],[376,0.06],[382,0.032],[393,-0.054],[397,-0.033],[400,-0.011],[401,0.046],[401,0.225],[468,0.232],[547,0.244],
  [33,-0.35],[35,-0.42],[37,-0.33],[39,-0.38],[41,-0.3],[44,-0.36],[46,-0.26],[49,-0.31],[51,-0.25],[54,-0.22],[56,-0.28],[59,-0.17],[61,-0.23],[63,-0.14],[66,-0.1],[68,-0.15],[70,-0.06],[73,-0.08],[76,-0.02],[79,-0.05],[82,-0.01],[84,0.02],[86,0.05],[88,0.03],[91,0.06],[94,0.04],[97,0.07],[101,0.06],[103,0.02],[106,0.08],[108,0.05],[110,0.07],[113,0.06],[115,0.03],[117,0.1],[119,0.07],[121,0.05],[123,0.08],[126,0.11],[128,0.06],[131,0.09],[133,0.12],[135,0.07],[136,0.1],[139,0.06],[141,0.1],[143,0.13],[145,0.07],[147,0.11],[149,0.09],[151,0.12],[153,0.07],[154,0.1],[157,0.13],[159,0.09],[161,0.11],[163,0.07],[165,0.1],[167,0.08],[170,0.06],[172,0.09],[173,0.12],[176,0.07],[178,0.1],[179,0.06],[181,0.08],[184,0.05],[186,0.09],[188,0.07],[190,0.1],[192,0.05],[194,0.03],[196,0.08],[198,0.1],[200,0.06],[202,0.03],[204,0.08],[206,0.06],[208,0.12],[210,0.04],[212,0.08],[214,0.11],[216,0.05],[218,0.08],[220,0.03],[222,0.12],[224,0.06],[226,0.1],[228,0.17],[230,0.05],[232,0.12],[234,0.08],[237,0.15],[239,0.1],[242,0.18],[244,0.05],[247,0.12],[250,0.2],[252,0.08],[254,0.21],[256,0.11],[257,0.06],[259,0.16],[261,0.09],[263,0.13],[265,0.08],[267,0.19],[268,0.11],[271,0.06],[273,0.13],[275,0.09],[277,0.17],[280,0.11],[283,0.07],[286,0.12],[288,0.08],[291,0.1],[294,0.06],[297,0.11],[300,0.08],[303,0.05],[306,0.09],[309,0.07],[312,0.11],[315,0.08],[319,0.1],[323,0.07],[327,0.09],[331,0.06],[335,0.1],[339,0.08],[343,0.06],[347,0.1],[351,0.08],[355,0.07],[359,0.1],[363,0.06],[366,0.08],[369,0.05],[373,0.07],[378,0.05],[380,0.07]
];

const yMajorTicks = [-0.8, -0.4, 0];
const yMinorTicks = [-1.0, -0.6, -0.2, 0.2];
const speiMajor = [-2, -1, 0, 1, 2];
const speiMinor = [-2.5, -1.5, -0.5, 0.5, 1.5];
const febMajorC = [100, 200];
const febMajorD = [100, 200, 300];
const febMinor = [50, 150, 250];
const decMajorE = [0, 100, 200, 300, 400, 500];
const decMajorF = [100, 200, 300, 400, 500];
const decMinor = [50, 150, 250, 350, 450, 550];

const BROWN = "#8C510A";
const TEAL = "#01665E";
const FONT = '"DejaVu Sans", "Liberation Sans", sans-serif';

const panels = [
  { letter: "a", title: "Soybean - RS (IBGE)", xName: "spei_3month_Feb", data: ibgeSpeiFeb, color: BROWN, xMin: -2.661, xMax: 2.238, major: speiMajor, minor: speiMinor, col: 0, row: 0 },
  { letter: "b", title: "Soybean - RS (GDHY)", xName: "spei_3month_Feb", data: gdhySpeiFeb, color: TEAL, xMin: -2.713, xMax: 2.203, major: speiMajor, minor: speiMinor, col: 1, row: 0 },
  { letter: "c", title: "Soybean - RS (IBGE)", xName: "prcptot_Feb", data: ibgePrcpFeb, color: BROWN, xMin: 2.8, xMax: 297.7, major: febMajorC, minor: febMinor, col: 0, row: 1 },
  { letter: "d", title: "Soybean - RS (GDHY)", xName: "prcptot_Feb", data: gdhyPrcpFeb, color: TEAL, xMin: 24.1, xMax: 321.8, major: febMajorD, minor: febMinor, col: 1, row: 1 },
  { letter: "e", title: "Soybean - RS (IBGE)", xName: "prcptot_Dec", data: ibgePrcpDec, color: BROWN, xMin: -4.3, xMax: 574, major: decMajorE, minor: decMinor, col: 0, row: 2 },
  { letter: "f", title: "Soybean - RS (GDHY)", xName: "prcptot_Dec", data: gdhyPrcpDec, color: TEAL, xMin: 1.0, xMax: 571.6, major: decMajorF, minor: decMinor, col: 1, row: 2 },
];

const Y_MIN = -1.058;
const Y_MAX = 0.308;
const COL_LEFT = [96, 765];
const ROW_TOP = [57, 504, 950];
const PLOT_W = 561;
const PLOT_H = 318;

export default function App() {
  const ref = useRef<HTMLDivElement>(null);
  useEffect(() => {
    if (!ref.current) return;
    const chart = echarts.init(ref.current, undefined, { renderer: "svg" });
    const grid: any[] = [];
    const xAxis: any[] = [];
    const yAxis: any[] = [];
    const series: any[] = [];
    const graphic: any[] = [];
    panels.forEach((p, i) => {
      const left = COL_LEFT[p.col];
      const top = ROW_TOP[p.row];
      grid.push({ left, top, width: PLOT_W, height: PLOT_H, show: true, backgroundColor: "#EBEBEB", borderWidth: 0, containLabel: false });
      xAxis.push({
        type: "value", gridIndex: i, min: p.xMin, max: p.xMax, position: "bottom",
        axisLine: { show: false, onZero: false },
        axisTick: { show: true, length: 5, lineStyle: { color: "#333333", width: 1.6 }, customValues: p.major },
        axisLabel: { show: true, color: "#4D4D4D", fontSize: 18, fontFamily: FONT, margin: 10, customValues: p.major, formatter: (v: number) => String(v) },
        splitLine: { show: true, lineStyle: { color: "#FFFFFF", width: 2 } },
      });
      xAxis.push({
        type: "value", gridIndex: i, min: p.xMin, max: p.xMax, position: "bottom",
        axisLine: { show: false, onZero: false },
        axisTick: { show: false, customValues: p.minor },
        axisLabel: { show: false },
        splitLine: { show: true, lineStyle: { color: "#FFFFFF", width: 1 } },
      });
      yAxis.push({
        type: "value", gridIndex: i, min: Y_MIN, max: Y_MAX, position: "left",
        axisLine: { show: false, onZero: false },
        axisTick: { show: true, length: 5, lineStyle: { color: "#333333", width: 1.6 }, customValues: yMajorTicks },
        axisLabel: { show: true, color: "#4D4D4D", fontSize: 18, fontFamily: FONT, margin: 13, customValues: yMajorTicks, formatter: (v: number) => v.toFixed(1) },
        splitLine: { show: true, lineStyle: { color: "#FFFFFF", width: 2 } },
      });
      yAxis.push({
        type: "value", gridIndex: i, min: Y_MIN, max: Y_MAX, position: "left",
        axisLine: { show: false, onZero: false },
        axisTick: { show: false, customValues: yMinorTicks },
        axisLabel: { show: false },
        splitLine: { show: true, lineStyle: { color: "#FFFFFF", width: 1 } },
      });
      series.push({
        type: "scatter", xAxisIndex: 2 * i, yAxisIndex: 2 * i, data: p.data,
        symbol: "circle", symbolSize: 10, itemStyle: { color: p.color, opacity: 1 },
        emphasis: { disabled: true }, silent: true,
      });
      const dx = left - 96;
      const dy = top - 57;
      graphic.push({ type: "text", x: 12 + dx, y: 29 + dy, style: { text: p.letter, fontSize: 31, fontWeight: "bold", fontFamily: FONT, fill: "#000", align: "left", verticalAlign: "middle" } });
      graphic.push({ type: "text", x: 95 + dx, y: 29 + dy, style: { text: p.title, fontSize: 31, fontFamily: FONT, fill: "#000", align: "left", verticalAlign: "middle" } });
      graphic.push({ type: "text", x: left + PLOT_W / 2, y: 421 + dy, style: { text: p.xName, fontSize: 25, fontFamily: FONT, fill: "#000", align: "center", verticalAlign: "middle" } });
      graphic.push({ type: "text", x: 24 + dx, y: top + PLOT_H / 2, rotation: Math.PI / 2, style: { text: "SHAP [ton/ha]", fontSize: 25, fontFamily: FONT, fill: "#000", align: "center", verticalAlign: "middle" } });
    });
    chart.setOption({
      animation: false,
      backgroundColor: "#FFFFFF",
      textStyle: { fontFamily: FONT },
      grid, xAxis, yAxis, series, graphic,
    });
    return () => chart.dispose();
  }, []);
  return (
    <div
      ref={ref}
      style={{ position: "absolute", left: 0, top: 0, width: 1317, height: 1330, overflow: "hidden", background: "#fff" }}
    />
  );
}
